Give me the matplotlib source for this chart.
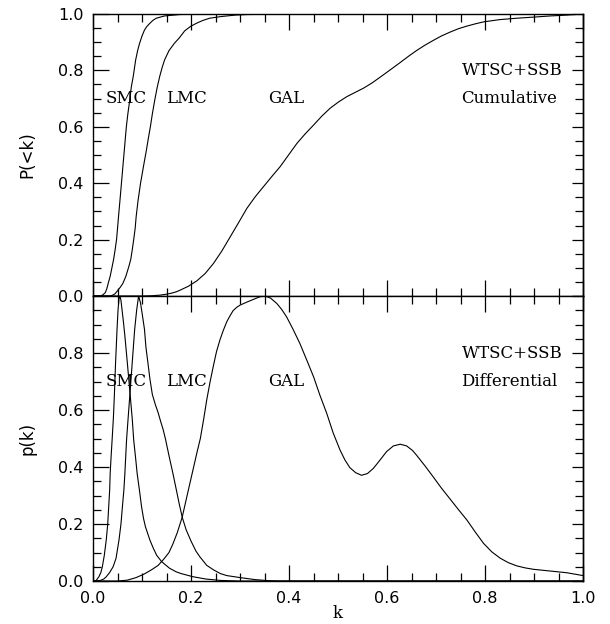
import matplotlib
matplotlib.use("Agg")
import matplotlib.pyplot as plt
from matplotlib.ticker import MultipleLocator, FormatStrFormatter

# ---------------- data ----------------
# Cumulative distributions P(<k)
smc_cum_k = [0.0, 0.015, 0.020, 0.025, 0.028, 0.031, 0.035, 0.039, 0.042, 0.045,
             0.048, 0.050, 0.052, 0.055, 0.058, 0.0605, 0.063, 0.068, 0.071, 0.075,
             0.078, 0.082, 0.087, 0.091, 0.095, 0.100, 0.105, 0.110, 0.116, 0.122,
             0.129, 0.146, 0.177, 0.22, 1.0]
smc_cum_p = [0.0, 0.0, 0.004, 0.012, 0.025, 0.045, 0.07, 0.104, 0.13, 0.163,
             0.20, 0.24, 0.281, 0.34, 0.40, 0.45, 0.50, 0.60, 0.645, 0.695,
             0.74, 0.778, 0.837, 0.87, 0.896, 0.922, 0.943, 0.956, 0.967, 0.977,
             0.985, 0.993, 0.998, 1.0, 1.0]

lmc_cum_k = [0.0, 0.035, 0.040, 0.045, 0.051, 0.056, 0.061, 0.067, 0.073, 0.077,
             0.080, 0.083, 0.086, 0.088, 0.092, 0.097, 0.103, 0.109, 0.113, 0.117,
             0.121, 0.126, 0.131, 0.136, 0.141, 0.146, 0.155, 0.166, 0.176, 0.187,
             0.199, 0.211, 0.224, 0.238, 0.262, 0.29, 0.314, 0.40, 1.0]
lmc_cum_p = [0.0, 0.0, 0.003, 0.008, 0.021, 0.032, 0.045, 0.07, 0.104, 0.13,
             0.163, 0.20, 0.24, 0.281, 0.34, 0.40, 0.46, 0.518, 0.56, 0.60,
             0.645, 0.695, 0.74, 0.778, 0.81, 0.837, 0.87, 0.896, 0.915, 0.94,
             0.956, 0.967, 0.977, 0.985, 0.991, 0.996, 0.998, 1.0, 1.0]

gal_cum_k = [0.0, 0.10, 0.12, 0.136, 0.148, 0.160, 0.170, 0.178, 0.195, 0.212,
             0.229, 0.246, 0.263, 0.280, 0.297, 0.314, 0.331, 0.348, 0.365, 0.382,
             0.399, 0.416, 0.433, 0.450, 0.467, 0.484, 0.501, 0.518, 0.535, 0.552,
             0.569, 0.586, 0.605, 0.627, 0.643, 0.660, 0.677, 0.694, 0.711, 0.729,
             0.746, 0.763, 0.780, 0.797, 0.830, 0.865, 0.900, 0.933, 0.967, 1.0]
gal_cum_p = [0.0, 0.0, 0.001, 0.003, 0.006, 0.010, 0.015, 0.021, 0.035, 0.054,
             0.08, 0.116, 0.16, 0.21, 0.26, 0.311, 0.352, 0.388, 0.424, 0.459,
             0.50, 0.541, 0.575, 0.606, 0.638, 0.666, 0.688, 0.707, 0.722, 0.737,
             0.755, 0.776, 0.800, 0.828, 0.849, 0.870, 0.889, 0.906, 0.922, 0.936,
             0.948, 0.957, 0.965, 0.972, 0.980, 0.985, 0.989, 0.993, 0.996, 1.0]

# Differential distributions p(k)
smc_dif_k = [0.0, 0.006, 0.012, 0.016, 0.019, 0.023, 0.027, 0.030, 0.032, 0.034,
             0.035, 0.037, 0.039, 0.0415, 0.0435, 0.046, 0.049, 0.051, 0.053, 0.055,
             0.057, 0.060, 0.062, 0.065, 0.070, 0.076, 0.080, 0.083, 0.087, 0.090,
             0.095, 0.099, 0.103, 0.107, 0.116, 0.123, 0.130, 0.140, 0.156, 0.170,
             0.180, 0.204, 0.23, 0.26, 0.30, 1.0]
smc_dif_p = [0.0, 0.001, 0.015, 0.03, 0.05, 0.09, 0.144, 0.20, 0.261, 0.32,
             0.378, 0.44, 0.497, 0.57, 0.649, 0.766, 0.883, 0.95, 0.99, 1.0,
             0.985, 0.94, 0.91, 0.86, 0.766, 0.649, 0.57, 0.495, 0.43, 0.378,
             0.315, 0.261, 0.22, 0.19, 0.144, 0.115, 0.09, 0.068, 0.045, 0.032,
             0.026, 0.015, 0.007, 0.002, 0.0, 0.0]

lmc_dif_k = [0.0, 0.015, 0.022, 0.027, 0.034, 0.041, 0.047, 0.053, 0.057, 0.060,
             0.063, 0.065, 0.0685, 0.072, 0.075, 0.080, 0.085, 0.089, 0.093, 0.097,
             0.101, 0.105, 0.108, 0.112, 0.116, 0.121, 0.127, 0.133, 0.138, 0.143,
             0.148, 0.155, 0.163, 0.170, 0.176, 0.182, 0.190, 0.200, 0.210, 0.218,
             0.232, 0.246, 0.260, 0.273, 0.300, 0.330, 0.360, 0.380, 1.0]
lmc_dif_p = [0.0, 0.002, 0.007, 0.015, 0.03, 0.05, 0.08, 0.144, 0.20, 0.261,
             0.32, 0.378, 0.497, 0.58, 0.649, 0.766, 0.883, 0.95, 1.0, 0.975,
             0.93, 0.883, 0.82, 0.766, 0.71, 0.655, 0.62, 0.59, 0.56, 0.532,
             0.497, 0.44, 0.378, 0.32, 0.27, 0.224, 0.18, 0.14, 0.105, 0.085,
             0.055, 0.039, 0.026, 0.019, 0.012, 0.005, 0.001, 0.0, 0.0]

gal_dif_k = [0.0, 0.05, 0.07, 0.088, 0.105, 0.12, 0.133, 0.145, 0.155, 0.163,
             0.172, 0.182, 0.192, 0.204, 0.212, 0.219, 0.226, 0.232, 0.239, 0.246,
             0.252, 0.259, 0.266, 0.273, 0.280, 0.286, 0.293, 0.300, 0.313, 0.327,
             0.340, 0.351, 0.362, 0.375, 0.385, 0.395, 0.408, 0.422, 0.436, 0.450,
             0.463, 0.477, 0.490, 0.504, 0.514, 0.524, 0.536, 0.548, 0.560, 0.572,
             0.586, 0.599, 0.613, 0.627, 0.640, 0.652, 0.660, 0.677, 0.694, 0.711,
             0.729, 0.746, 0.763, 0.780, 0.797, 0.814, 0.831, 0.848, 0.865, 0.882,
             0.899, 0.933, 0.967, 1.0]
gal_dif_p = [0.0, 0.0, 0.003, 0.012, 0.025, 0.040, 0.055, 0.078, 0.10, 0.13,
             0.17, 0.224, 0.30, 0.39, 0.45, 0.50, 0.57, 0.635, 0.70, 0.758,
             0.805, 0.846, 0.88, 0.91, 0.932, 0.949, 0.96, 0.968, 0.978, 0.988,
             0.997, 1.0, 0.993, 0.974, 0.953, 0.927, 0.884, 0.834, 0.776, 0.717,
             0.652, 0.588, 0.52, 0.46, 0.425, 0.398, 0.380, 0.371, 0.377, 0.395,
             0.425, 0.454, 0.474, 0.48, 0.474, 0.458, 0.442, 0.405, 0.366, 0.326,
             0.287, 0.250, 0.214, 0.172, 0.132, 0.102, 0.080, 0.064, 0.053, 0.046,
             0.041, 0.035, 0.029, 0.019]

group_labels = ["SMC", "LMC", "GAL"]
label_x = [0.025, 0.150, 0.358]
top_texts = ["WTSC+SSB", "Cumulative"]
bottom_texts = ["WTSC+SSB", "Differential"]

# ---------------- figure ----------------
fig = plt.figure(figsize=(6.1, 6.24), dpi=100)
ax1 = fig.add_axes([0.1525, 0.5256, 0.8033, 0.452])
ax2 = fig.add_axes([0.1525, 0.0689, 0.8033, 0.4567])

sans = "DejaVu Sans"
serif = "DejaVu Serif"
lw = 0.8

for ax in (ax1, ax2):
    ax.set_xlim(0, 1)
    ax.set_ylim(0, 1)
    ax.xaxis.set_major_locator(MultipleLocator(0.2))
    ax.xaxis.set_minor_locator(MultipleLocator(0.05))
    ax.yaxis.set_major_locator(MultipleLocator(0.2))
    ax.yaxis.set_minor_locator(MultipleLocator(0.05))
    ax.xaxis.set_major_formatter(FormatStrFormatter("%.1f"))
    ax.yaxis.set_major_formatter(FormatStrFormatter("%.1f"))
    ax.tick_params(which="both", direction="in", top=True, right=False,
                   width=0.9, colors="black")
    ax.tick_params(which="major", length=11.5, pad=7, labelsize=11.5)
    ax.tick_params(which="minor", length=6)
    for s in ax.spines.values():
        s.set_linewidth(1.0)
    # shorter ticks on the right-hand side
    sec = ax.secondary_yaxis("right")
    sec.yaxis.set_major_locator(MultipleLocator(0.2))
    sec.yaxis.set_minor_locator(MultipleLocator(0.05))
    sec.tick_params(which="both", direction="in", width=0.9, labelright=False)
    sec.tick_params(which="major", length=8)
    sec.tick_params(which="minor", length=5.5)
    sec.spines["right"].set_linewidth(1.0)

ax1.tick_params(labelbottom=False)

# top panel
ax1.plot(smc_cum_k, smc_cum_p, color="black", lw=lw)
ax1.plot(lmc_cum_k, lmc_cum_p, color="black", lw=lw)
ax1.plot(gal_cum_k, gal_cum_p, color="black", lw=lw)

# bottom panel
ax2.plot(smc_dif_k, smc_dif_p, color="black", lw=lw)
ax2.plot(lmc_dif_k, lmc_dif_p, color="black", lw=lw)
ax2.plot(gal_dif_k, gal_dif_p, color="black", lw=lw)

ax1.set_yticks([0.0, 0.2, 0.4, 0.6, 0.8, 1.0])
ax1.set_yticklabels(["0.0", "0.2", "0.4", "0.6", "0.8", "1.0"], family=sans)
# hide the 1.0 label on the bottom panel
ax2.set_yticks([0.0, 0.2, 0.4, 0.6, 0.8, 1.0])
ax2.set_yticklabels(["0.0", "0.2", "0.4", "0.6", "0.8", ""], family=sans)
ax2.set_xticks([0.0, 0.2, 0.4, 0.6, 0.8, 1.0])
ax2.set_xticklabels(["0.0", "0.2", "0.4", "0.6", "0.8", "1.0"], family=sans)

for ax in (ax1, ax2):
    for name, x in zip(group_labels, label_x):
        ax.text(x, 0.683, name, family=serif, fontsize=12, va="baseline", ha="left")

for ax, texts in ((ax1, top_texts), (ax2, bottom_texts)):
    ax.text(0.752, 0.782, texts[0], family=serif, fontsize=12, va="baseline", ha="left")
    ax.text(0.752, 0.683, texts[1], family=serif, fontsize=12, va="baseline", ha="left")

ax1.set_ylabel("P(<k)", family=sans, fontsize=12)
ax2.set_ylabel("p(k)", family=sans, fontsize=12)
ax1.yaxis.set_label_coords(-0.115, 0.5)
ax2.yaxis.set_label_coords(-0.115, 0.5)
ax2.set_xlabel("k", family=serif, fontsize=12)
ax2.xaxis.set_label_coords(0.5, -0.085)
ax2.xaxis.label.set_va("top")

fig.savefig("out.png", dpi=100, facecolor="white")
